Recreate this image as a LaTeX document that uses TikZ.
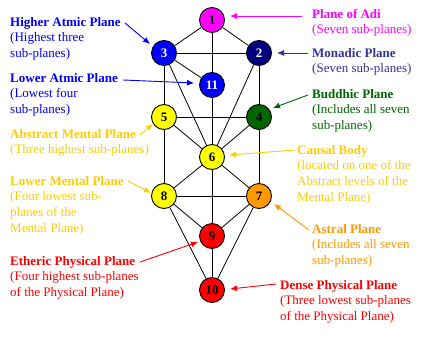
\documentclass[tikz,border=0pt]{standalone}
\usepackage{fontspec}
\setmainfont{Liberation Serif}
\usetikzlibrary{arrows.meta}
\definecolor{adi}{HTML}{FF00FF}
\definecolor{atm}{HTML}{0000FF}
\definecolor{mon}{HTML}{000080}
\definecolor{montext}{HTML}{333399}
\definecolor{bud}{HTML}{006600}
\definecolor{gold}{HTML}{FFCC00}
\definecolor{ylw}{HTML}{FFFF00}
\definecolor{ast}{HTML}{FF9900}
\definecolor{phy}{HTML}{FF0000}
\begin{document}
\begin{tikzpicture}[x=1pt,y=-1pt,
  sph/.style={circle,draw=black,line width=0.9pt,minimum size=25pt,inner sep=0pt,font=\fontsize{13}{15}\selectfont\bfseries},
  lbl/.style={anchor=north west,inner sep=0pt,align=left,font=\fontsize{13}{15.6}\selectfont},
  ptr/.style={line width=0.9pt,-{Latex[length=7pt,width=6pt]}},
  edge/.style={line width=0.8pt}]
\useasboundingbox (0,0) rectangle (425,342);
\fill[white] (0,0) rectangle (425,342);

% spheres
\node[sph,fill=adi] (n1) at (212,20) {1};
\node[sph,fill=atm,text=white] (n3) at (164,53) {3};
\node[sph,fill=mon,text=white] (n2) at (259,53) {2};
\node[sph,fill=atm,text=white] (n11) at (212,85) {11};
\node[sph,fill=ylw] (n5) at (164,117) {5};
\node[sph,fill=bud] (n4) at (259,117) {4};
\node[sph,fill=ylw] (n6) at (212,157) {6};
\node[sph,fill=ylw] (n8) at (164,196) {8};
\node[sph,fill=ast] (n7) at (259,196) {7};
\node[sph,fill=phy] (n9) at (212,236) {9};
\node[sph,fill=phy] (n10) at (212,290) {10};

% paths
\foreach \a/\b in {n1/n3,n1/n2,n1/n11,n3/n2,n3/n11,n3/n6,n3/n5,n2/n6,n2/n4,
  n11/n6,n5/n4,n5/n6,n4/n6,n5/n8,n4/n7,n6/n8,n6/n7,n6/n9,n8/n7,n8/n9,n7/n9,
  n8/n10,n7/n10,n9/n10}
  \draw[edge] (\a) -- (\b);

% labels
\newcommand{\fs}{\rule{0pt}{10pt}}
\node[lbl,text=atm] (tHA) at (10,16) {\fs\textbf{Higher Atmic Plane}\\(Highest three\\sub-planes)};
\node[lbl,text=atm] (tLA) at (10,72) {\fs\textbf{Lower Atmic Plane}\\(Lowest four\\sub-planes)};
\node[lbl,text=gold] (tAM) at (10,128) {\fs\textbf{Abstract Mental Plane}\\(Three highest sub-planes)};
\node[lbl,text=gold] (tLM) at (10,175) {\fs\textbf{Lower Mental Plane}\\(Four lowest sub-\\planes of the\\Mental Plane)};
\node[lbl,text=phy] (tEP) at (10,255) {\fs\textbf{Etheric Physical Plane}\\(Four highest sub-planes\\of the Physical Plane)};
\node[lbl,text=adi] (tAD) at (312,8) {\fs\textbf{Plane of Adi}\\(Seven sub-planes)};
\node[lbl,text=montext] (tMO) at (312,47) {\fs\textbf{Monadic Plane}\\(Seven sub-planes)};
\node[lbl,text=bud] (tBU) at (312,88) {\fs\textbf{Buddhic Plane}\\(Includes all seven\\sub-planes)};
\node[lbl,text=gold] (tCB) at (297,144) {\fs\textbf{Causal Body}\\(located on one of the\\Abstract levels of the\\Mental Plane)};
\node[lbl,text=ast] (tAS) at (312,223) {\fs\textbf{Astral Plane}\\(Includes all seven\\sub-planes)};
\node[lbl,text=phy] (tDP) at (280,279) {\fs\textbf{Dense Physical Plane}\\(Three lowest sub-planes\\of the Physical Plane)};

% pointer ends
\coordinate (aHA) at (125,23);  \coordinate (bHA) at (150,44);
\coordinate (aLA) at (123,80);  \coordinate (bLA) at (194,83);
\coordinate (aAM) at (140,135); \coordinate (bAM) at (153,124);
\coordinate (aAD) at (302,16);  \coordinate (bAD) at (230,16);
\coordinate (aMO) at (308,53);  \coordinate (bMO) at (277,53);
\coordinate (aBU) at (308,95);  \coordinate (bBU) at (273,108);
\coordinate (aCB) at (295,150); \coordinate (bCB) at (229,155);
\coordinate (aLM) at (128,181); \coordinate (bLM) at (151,193);
\coordinate (aEP) at (140,262); \coordinate (bEP) at (198,242);
\coordinate (aAS) at (309,230); \coordinate (bAS) at (274,204);
\coordinate (aDP) at (276,284); \coordinate (bDP) at (230,289);

\draw[ptr,atm] (aHA) -- (bHA);
\draw[ptr,atm] (aLA) -- (bLA);
\draw[ptr,gold] (aAM) -- (bAM);
\draw[ptr,adi] (aAD) -- (bAD);
\draw[ptr,montext] (aMO) -- (bMO);
\draw[ptr,bud] (aBU) -- (bBU);
\draw[ptr,gold] (aCB) -- (bCB);
\draw[ptr,gold] (aLM) -- (bLM);
\draw[ptr,phy] (aEP) -- (bEP);
\draw[ptr,ast] (aAS) -- (bAS);
\draw[ptr,phy] (aDP) -- (bDP);
\end{tikzpicture}
\end{document}
